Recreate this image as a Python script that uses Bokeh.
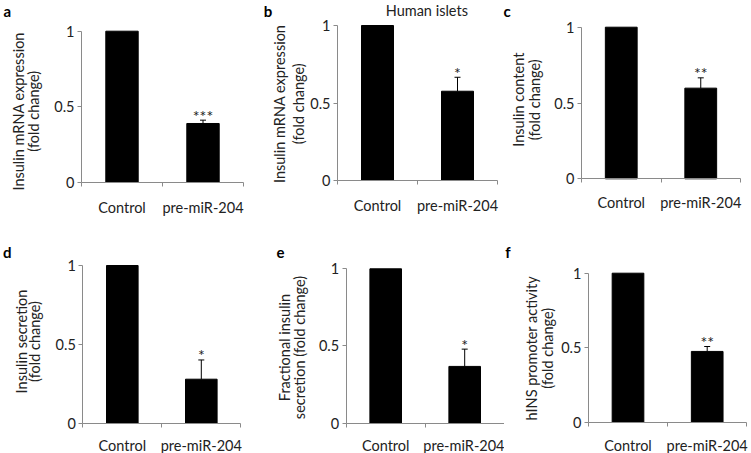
from math import pi
from bokeh.plotting import figure
from bokeh.layouts import column, row
from bokeh.models import Label, FixedTicker, Whisker, TeeHead, ColumnDataSource, Range1d
from bokeh.embed import file_html
from bokeh.resources import INLINE
from bokeh.core.properties import value

# ---------------- data ----------------
categories = ["Control", "pre-miR-204"]
y_ticks = [0, 0.5, 1]
y_tick_labels = ["0", "0.5", "1"]

vals_a = [1.0, 0.39]
err_a = [0.0, 0.022]
sig_a = ["", "***"]

vals_b = [1.0, 0.576]
err_b = [0.0, 0.09]
sig_b = ["", "*"]

vals_c = [1.0, 0.598]
err_c = [0.0, 0.068]
sig_c = ["", "**"]

vals_d = [1.0, 0.279]
err_d = [0.0, 0.122]
sig_d = ["", "*"]

vals_e = [1.0, 0.367]
err_e = [0.0, 0.112]
sig_e = ["", "*"]

vals_f = [1.0, 0.476]
err_f = [0.0, 0.033]
sig_f = ["", "**"]

FONT = "Lato"
FS = "14.5px"
AXIS_COL = "#8a8a8a"
TXT_COL = "#222222"


def make_panel(vals, errs, sigs, letter, ylab, geom, title=None):
    # box: canvas w, h and the margins round the 0..n x 0..1 data box
    w, h, bl, br, bt, bb = geom["box"]
    fw = w - bl - br
    fh = h - bt - bb
    n = len(categories)
    y_max = max(y_ticks)
    x_range = Range1d(-bl / fw * n, n + br / fw * n)
    y_range = Range1d(-bb / fh * y_max, y_max + bt / fh * y_max)
    p = figure(width=w, height=h, output_backend="svg", toolbar_location=None,
               x_range=x_range, y_range=y_range,
               min_border_left=0, min_border_right=0, min_border_top=0,
               min_border_bottom=0)
    p.title.visible = False
    p.outline_line_color = None
    p.xgrid.visible = False
    p.ygrid.visible = False
    p.background_fill_color = "white"
    p.border_fill_color = "white"

    # pixel offsets (from the data box's bottom-left) -> data units
    def dx(px):
        return px / fw * n

    def dy(px):
        return px / fh * y_max

    xs = [i + 0.5 for i in range(n)]
    src = ColumnDataSource(dict(x=xs, top=vals, cat=categories))
    p.vbar(x="x", top="top", width=0.4, bottom=0, source=src,
           fill_color="black", line_color="black")

    ex = [x for x, e in zip(xs, errs) if e > 0]
    ev = [v for v, e in zip(vals, errs) if e > 0]
    eu = [v + e for v, e in zip(vals, errs) if e > 0]
    es = [s for s, e in zip(sigs, errs) if e > 0]
    esrc = ColumnDataSource(dict(x=ex, lower=ev, upper=eu, sig=es))
    wk = Whisker(source=esrc, base="x", lower="lower", upper="upper",
                 dimension="height", line_color="black", line_width=1,
                 lower_head=None,
                 upper_head=TeeHead(size=6, line_color="black", line_width=1))
    p.add_layout(wk)
    p.text(x="x", y="upper", text="sig", source=esrc, text_align="center",
           text_baseline="middle", y_offset=-5, text_font=value(FONT),
           text_font_size="16px", text_color=TXT_COL)

    # x axis, fixed at y = 0
    xa = p.xaxis[0]
    xa.fixed_location = 0
    xa.bounds = (0, n)
    xa.ticker = FixedTicker(ticks=xs, minor_ticks=list(range(n + 1)))
    xa.major_label_overrides = {x: c for x, c in zip(xs, categories)}
    xa.major_tick_out = 0
    xa.major_tick_in = 0
    xa.minor_tick_out = 4
    xa.minor_tick_in = 0
    xa.minor_tick_line_color = AXIS_COL
    xa.axis_line_color = AXIS_COL
    xa.major_label_standoff = geom["xstand"]
    xa.major_label_text_font = FONT
    xa.major_label_text_font_size = FS
    xa.major_label_text_color = TXT_COL

    # y axis, fixed at x = 0
    ya = p.yaxis[0]
    ya.fixed_location = 0
    ya.bounds = (0, y_max)
    ya.ticker = FixedTicker(ticks=y_ticks, minor_ticks=[])
    ya.major_label_overrides = {t: l for t, l in zip(y_ticks, y_tick_labels)}
    ya.major_tick_out = 4
    ya.major_tick_in = 0
    ya.major_tick_line_color = AXIS_COL
    ya.axis_line_color = AXIS_COL
    ya.major_label_standoff = 3
    ya.major_label_text_font = FONT
    ya.major_label_text_font_size = FS
    ya.major_label_text_color = TXT_COL

    lx, ly, lalign = geom["letter"]
    p.add_layout(Label(x=dx(lx), y=dy(ly), text=letter,
                       text_font=FONT, text_font_size="15px", text_font_style="bold",
                       text_align=lalign, text_baseline="middle", text_color="black"))
    yl_x, yl_y = geom["ylab"]
    for xx, line in zip(yl_x, ylab):
        p.add_layout(Label(x=dx(xx), y=dy(yl_y), text=line,
                           angle=pi / 2, text_font=FONT, text_font_size=FS,
                           text_align="center", text_baseline="middle",
                           text_color=TXT_COL))
    if title is not None:
        tx, ty = geom["title"]
        p.add_layout(Label(x=dx(tx), y=dy(ty), text=title,
                           text_font=FONT, text_font_size=FS, text_align="center",
                           text_baseline="middle", text_color=TXT_COL))
    return p


pa = make_panel(vals_a, err_a, sig_a, "a", ["Insulin mRNA expression", "(fold change)"],
                dict(box=(250, 226, 81, 7, 30.7, 44), letter=(-74.3, 171.2, "center"),
                     ylab=([-63.3, -48.0], 71.2), xstand=12))
pb = make_panel(vals_b, err_b, sig_b, "b", ["Insulin mRNA expression", "(fold change)"],
                dict(box=(251, 226, 87, 4, 25, 46), letter=(-69.5, 170, "center"),
                     ylab=([-58.5, -39.5], 76.7), title=(89.3, 170), xstand=12),
                title="Human islets")
pc = make_panel(vals_c, err_c, sig_c, "c", ["Insulin content", "(fold change)"],
                dict(box=(250, 226, 80, 11, 26.7, 47.7), letter=(-74.3, 167.5, "center"),
                     ylab=([-63.0, -47.2], 79.1), xstand=11))
pd = make_panel(vals_d, err_d, sig_d, "d", ["Insulin secretion", "(fold change)"],
                dict(box=(255, 227, 82.3, 14.7, 39, 30.3), letter=(-75.6, 170.9, "center"),
                     ylab=([-61.8, -48.5], 81.7), xstand=10))
pe = make_panel(vals_e, err_e, sig_e, "e", ["Fractional insulin", "secretion (fold change)"],
                dict(box=(249, 227, 90.7, 0.3, 42.3, 30.5), letter=(-65.7, 170.7, "center"),
                     ylab=([-61.9, -46.5], 75.5), xstand=10))
pf = make_panel(vals_f, err_f, sig_f, "f", ["hINS promoter activity", "(fold change)"],
                dict(box=(247, 227, 83.9, 4.7, 46.7, 31), letter=(-83.1, 170.2, "left"),
                     ylab=([-57.1, -41.2], 74.3), xstand=10))

layout = column(row(pa, pb, pc), row(pd, pe, pf))

open("out.html", "w").write(file_html(layout, INLINE))
